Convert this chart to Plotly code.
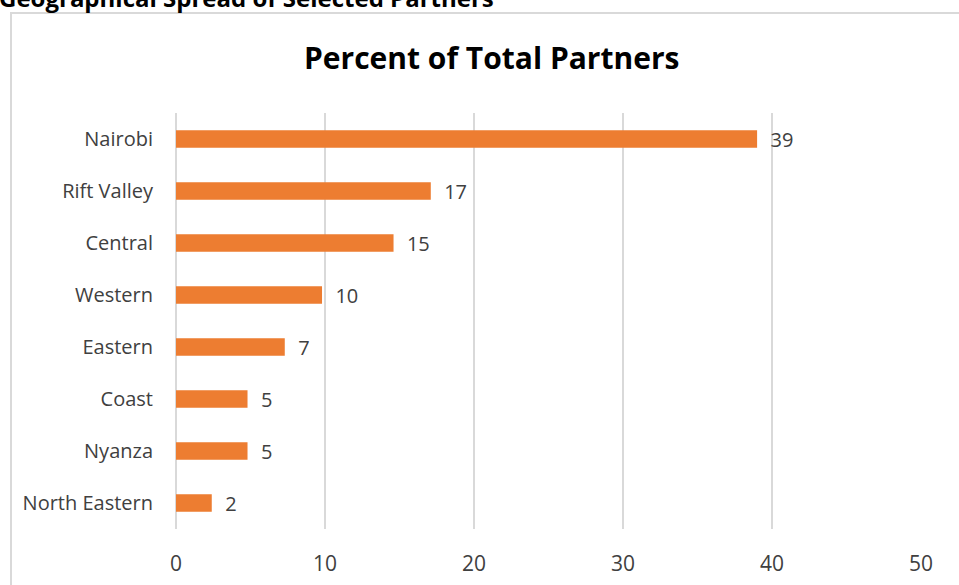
import plotly.graph_objects as go

# Share of selected partners by region (percent)
regions = ["Nairobi", "Rift Valley", "Central", "Western", "Eastern",
           "Coast", "Nyanza", "North Eastern"]
percent = [39.0, 17.1, 14.6, 9.8, 7.3, 4.8, 4.8, 2.4]
x_ticks = [0, 10, 20, 30, 40, 50]

FONT = "Open Sans"
BAR_COLOR = "#ED7D31"
TEXT_COLOR = "#404040"
GRID = "#d9d9d9"

fig = go.Figure()
fig.add_trace(go.Bar(
    y=regions,
    x=percent,
    orientation="h",
    marker=dict(color=BAR_COLOR, line=dict(width=0)),
    texttemplate="  %{x:.0f}",
    textposition="outside",
    constraintext="none",
    cliponaxis=False,
    textfont=dict(family=FONT, size=20, color=TEXT_COLOR),
    hoverinfo="skip",
))

# Plot-area position in pixels
L, R, T, B = 176, 921, 113, 529
W, H = 959, 585
def px_to_paper_x(px):
    return (px - L) / (R - L)
def px_to_paper_y(py):
    return (B - py) / (B - T)

fig.update_layout(
    width=W, height=H,
    margin=dict(l=L, r=W - R, t=T, b=H - B, pad=0, autoexpand=False),
    paper_bgcolor="white",
    plot_bgcolor="white",
    showlegend=False,
    bargap=0.66,
    font=dict(family=FONT, color=TEXT_COLOR),
    xaxis=dict(
        range=[0, 50],
        tickvals=x_ticks,
        showgrid=True,
        gridcolor=GRID,
        gridwidth=2,
        zeroline=True,
        zerolinecolor=GRID,
        zerolinewidth=2,
        showline=False,
        ticks="outside",
        ticklen=16,
        tickcolor="rgba(0,0,0,0)",
        tickfont=dict(family=FONT, size=21, color=TEXT_COLOR),
        automargin=False,
        fixedrange=True,
    ),
    yaxis=dict(
        categoryorder="array",
        categoryarray=regions[::-1],
        showgrid=False,
        zeroline=False,
        showline=False,
        ticks="outside",
        ticklen=18,
        tickcolor="rgba(0,0,0,0)",
        tickfont=dict(family=FONT, size=20, color=TEXT_COLOR),
        automargin=False,
        fixedrange=True,
    ),
    shapes=[
        # outer chart frame
        dict(type="rect", xref="paper", yref="paper",
             x0=px_to_paper_x(11), x1=px_to_paper_x(980),
             y0=px_to_paper_y(620), y1=px_to_paper_y(13),
             line=dict(color=GRID, width=2), fillcolor="rgba(0,0,0,0)",
             layer="below"),
    ],
    annotations=[
        dict(text="<b>Percent of Total Partners</b>", xref="paper", yref="paper",
             x=px_to_paper_x(491), y=px_to_paper_y(57), xanchor="center", yanchor="middle",
             showarrow=False, font=dict(family=FONT, size=30, color="#000000")),
        dict(text="<b>Geographical Spread of Selected Partners</b>", xref="paper", yref="paper",
             x=px_to_paper_x(-3), y=px_to_paper_y(-3), xanchor="left", yanchor="middle",
             showarrow=False, font=dict(family=FONT, size=24, color="#000000")),
    ],
)

fig.write_html("out.html", config={"displayModeBar": False})
